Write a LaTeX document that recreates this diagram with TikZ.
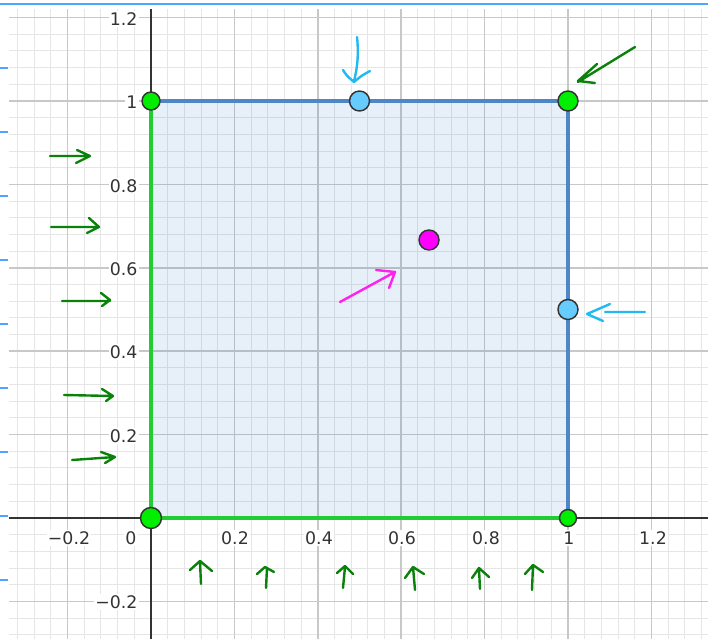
\documentclass[tikz,border=0pt]{standalone}
\usepackage{fontspec}
\setmainfont{DejaVu Sans}
\definecolor{minorgrid}{HTML}{E6E6E6}
\definecolor{majorgrid}{HTML}{C8C8C8}
\definecolor{axiscol}{HTML}{333333}
\definecolor{labelcol}{HTML}{333333}
\definecolor{sqfill}{RGB}{21,101,192}
\definecolor{edgeblue}{HTML}{4F86C6}
\definecolor{edgegreen}{HTML}{22CC33}
\definecolor{ptgreen}{HTML}{00EE00}
\definecolor{ptblue}{HTML}{66CCFF}
\definecolor{ptmag}{HTML}{FF00FF}
\definecolor{pengreen}{HTML}{0A820A}
\definecolor{pencyan}{HTML}{22B8F2}
\definecolor{penmag}{HTML}{FF22EE}
\definecolor{uiblue}{HTML}{4DA6FF}
\begin{document}
\begin{tikzpicture}[x=0.75pt,y=-0.75pt,
  minorline/.style={draw=minorgrid,line width=0.75pt},
  majorline/.style={draw=majorgrid,line width=1.1pt},
  axisline/.style={draw=axiscol,line width=1.1pt},
  ticklabel/.style={text=labelcol,fill=white,inner sep=1pt,font=\fontsize{13}{15}\selectfont},
  pt/.style={circle,draw=axiscol,line width=1.1pt,inner sep=0pt},
  pen/.style={line width=1.8pt,line cap=round,line join=round},
  uimark/.style={draw=uiblue,line width=1.1pt}]
\useasboundingbox (0,0) rectangle (708,639);
% grid
\foreach \i in {-8,...,33} {
  \pgfmathsetmacro\xx{151+16.68*\i}
  \draw[minorline] (\xx,9) -- (\xx,639);
}
\foreach \j in {-7,...,30} {
  \pgfmathsetmacro\yy{518-16.68*\j}
  \draw[minorline] (9,\yy) -- (708,\yy);
}
\foreach \i in {-5,0,...,30} {
  \pgfmathsetmacro\xx{151+16.68*\i}
  \draw[majorline] (\xx,9) -- (\xx,639);
}
\foreach \j in {-5,0,...,30} {
  \pgfmathsetmacro\yy{518-16.68*\j}
  \draw[majorline] (9,\yy) -- (708,\yy);
}
% UI marks
\draw[uimark] (0,4) -- (708,4);
\foreach \t in {68,132,196,260,324,388,452,516,580} {
  \draw[uimark] (0,\t) -- (8,\t);
}
% axes
\coordinate (ytop) at (151,9);
\coordinate (ybot) at (151,639);
\coordinate (xleft) at (9,518);
\coordinate (xright) at (708,518);
\draw[axisline] (ytop) -- (ybot);
\draw[axisline] (xleft) -- (xright);
% tick labels
\node[ticklabel,anchor=east] (ly12) at (139,19) {1.2};
\node[ticklabel,anchor=east] (ly10) at (139,102) {1};
\node[ticklabel,anchor=east] (ly08) at (139,186) {0.8};
\node[ticklabel,anchor=east] (ly06) at (139,269) {0.6};
\node[ticklabel,anchor=east] (ly04) at (139,352) {0.4};
\node[ticklabel,anchor=east] (ly02) at (139,436) {0.2};
\node[ticklabel,anchor=east] (lym02) at (139,602) {−0.2};
\node[ticklabel] (lxm02) at (69,538) {−0.2};
\node[ticklabel] (lx0) at (131,538) {0};
\node[ticklabel] (lx02) at (235,538) {0.2};
\node[ticklabel] (lx04) at (319,538) {0.4};
\node[ticklabel] (lx06) at (402,538) {0.6};
\node[ticklabel] (lx08) at (486,538) {0.8};
\node[ticklabel] (lx10) at (569,538) {1};
\node[ticklabel] (lx12) at (653,538) {1.2};
% square
\coordinate (A) at (151,518);
\coordinate (B) at (568,518);
\coordinate (C) at (568,101);
\coordinate (D) at (151,101);
\fill[sqfill,fill opacity=0.1] (A) -- (B) -- (C) -- (D) -- cycle;
\draw[edgeblue,line width=2.3pt] (D) -- (C) -- (B);
\draw[edgegreen,line width=3pt] (D) -- (A) -- (B);
% points
\node[pt,fill=ptgreen,minimum size=15.75pt] (pA) at (A) {};
\node[pt,fill=ptgreen,minimum size=12.75pt] (pB) at (B) {};
\node[pt,fill=ptgreen,minimum size=15pt] (pC) at (C) {};
\node[pt,fill=ptgreen,minimum size=13.5pt] (pD) at (D) {};
\node[pt,fill=ptblue,minimum size=15pt] (pE) at (359.5,101) {};
\node[pt,fill=ptblue,minimum size=15pt] (pF) at (568,309.5) {};
\node[pt,fill=ptmag,minimum size=15pt] (pG) at (429,240) {};
% pen arrows, left
\draw[pen,pengreen] (50,156) -- (90,156) (77,150) -- (90,156) -- (76,163);
\draw[pen,pengreen] (51,227) -- (99,227) (89,218) -- (99,227) -- (87,233);
\draw[pen,pengreen] (62,301) -- (110,301) (101,293) -- (110,300) -- (102,306);
\draw[pen,pengreen] (64,395) -- (113,396) (102,389) -- (113,396) -- (106,401);
\draw[pen,pengreen] (72,460) -- (115,457) (101,452) -- (115,457) -- (105,463);
% top right
\draw[pen,pengreen] (635,47) -- (578,82) (597,64) -- (578,81) -- (595,83);
% cyan
\draw[pen,pencyan] (357,37) .. controls (359,55) and (357,70) .. (354,81);
\draw[pen,pencyan] (343,70) .. controls (347,76) .. (354,82) .. controls (361,76) .. (370,71);
\draw[pen,pencyan] (645,312) -- (605,312) (610,304) -- (587,314) -- (603,321);
% magenta
\draw[pen,penmag] (340,302) -- (395,272) (376,270) -- (395,272) -- (389,288);
% bottom
\draw[pen,pengreen] (201,584) -- (200,562) (190,570) -- (200,561) -- (212,571);
\draw[pen,pengreen] (266,588) -- (267,568) (257,574) -- (265,567) -- (274,572);
\draw[pen,pengreen] (343,588) -- (345,567) (337,573) -- (345,566) -- (353,574);
\draw[pen,pengreen] (415,590) -- (413,567) (405,578) -- (413,567) -- (424,574);
\draw[pen,pengreen] (480,589) -- (479,569) (472,578) -- (479,568) -- (489,577);
\draw[pen,pengreen] (532,590) -- (533,565) (525,574) -- (533,565) -- (543,572);
\end{tikzpicture}
\end{document}
